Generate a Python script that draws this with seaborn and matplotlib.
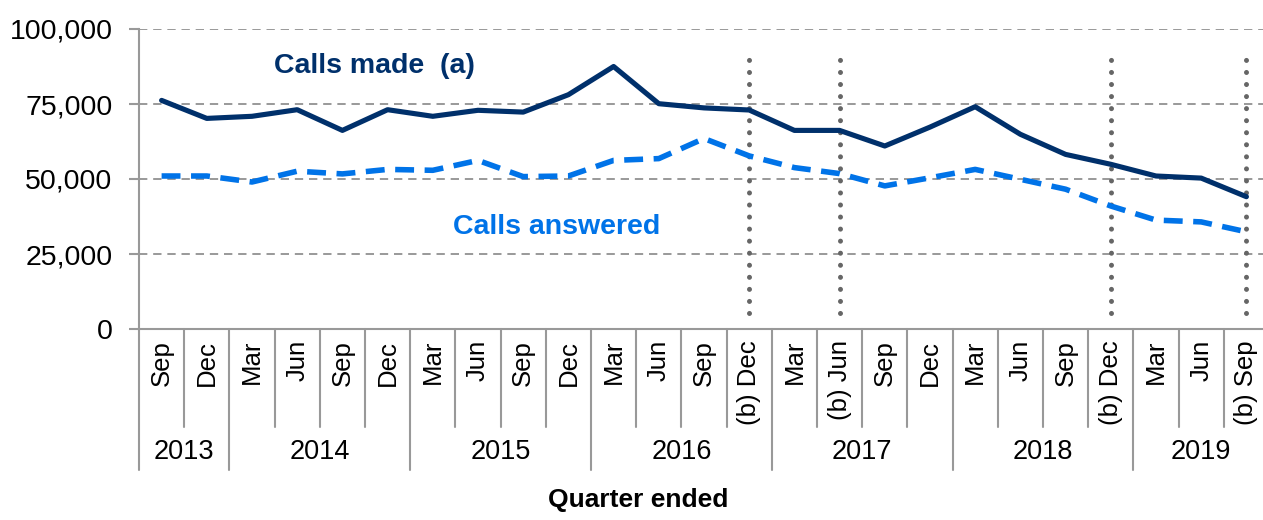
import pandas as pd
import numpy as np
import matplotlib
matplotlib.use("Agg")
import matplotlib.pyplot as plt
import seaborn as sns
from matplotlib.ticker import FuncFormatter

# Quarter labels and years
quarters = ['Sep', 'Dec',
            'Mar', 'Jun', 'Sep', 'Dec',
            'Mar', 'Jun', 'Sep', 'Dec',
            'Mar', 'Jun', 'Sep', '(b) Dec',
            'Mar', '(b) Jun', 'Sep', 'Dec',
            'Mar', 'Jun', 'Sep', '(b) Dec',
            'Mar', 'Jun', '(b) Sep']
years = ['2013', '2014', '2015', '2016', '2017', '2018', '2019']
quarters_per_year = [2, 4, 4, 4, 4, 4, 3]

# Series values
calls_made = [76200, 70200, 70900, 73100, 66200, 73100, 70900, 72900, 72300, 78100,
              87500, 75100, 73700, 73000, 66200, 66200, 61000, 67300, 74100, 64900,
              58200, 54900, 51000, 50300, 44100]
calls_answered = [51000, 51000, 49000, 52600, 51700, 53200, 52900, 56200, 50800, 51000,
                  56200, 56800, 63500, 57700, 53800, 51800, 47700, 50400, 53200, 49900,
                  46600, 41000, 36300, 35700, 32400]

# Quarters marked with a series break (b)
break_idx = [13, 15, 21, 24]

navy = '#00306B'
blue = '#0073E8'
grey = '#999999'

sns.set_style('white')
plt.rcParams['font.family'] = ['Liberation Sans', 'DejaVu Sans']
plt.rcParams['text.color'] = 'black'
plt.rcParams['xtick.labelcolor'] = 'black'
plt.rcParams['ytick.labelcolor'] = 'black'

df = pd.DataFrame({'pos': np.arange(len(quarters)),
                   'made': calls_made,
                   'answered': calls_answered})

fig = plt.figure(figsize=(12.63, 5.2), dpi=100)
ax = fig.add_axes([139 / 1263, 191 / 520, 1130 / 1263, 300 / 520])

# Gridlines
ax.set_ylim(0, 100000)
ax.set_xlim(-0.5, len(quarters) - 0.5)
ax.set_yticks(np.arange(0, 100001, 25000))
ax.yaxis.grid(True, color='#888888', linestyle=(0, (5, 3.5)), linewidth=1.2)
ax.set_axisbelow(True)

# Break markers
for b in break_idx:
    ax.plot([b, b], [5500, 91500], color='#666666', lw=3.6,
            linestyle=(0, (0.01, 2.4)), dash_capstyle='round', zorder=2)

sns.lineplot(data=df, x='pos', y='made', ax=ax, color=navy, lw=3.7, zorder=3)
sns.lineplot(data=df, x='pos', y='answered', ax=ax, color=blue, lw=4.0, zorder=3)
ax.lines[-1].set_linestyle((0, (3.4, 1.9)))
ax.lines[-1].set_dash_capstyle('butt')

ax.text(4.7, 87600, 'Calls made  (a)', color=navy, fontsize=20.5, fontweight='bold',
        ha='center', va='center')
ax.text(8.75, 34000, 'Calls answered', color=blue, fontsize=20.5, fontweight='bold',
        ha='center', va='center')

# Axes styling
for s in ['top', 'right']:
    ax.spines[s].set_visible(False)
for s in ['left', 'bottom']:
    ax.spines[s].set_color(grey)
    ax.spines[s].set_linewidth(1.5)

ax.yaxis.set_major_formatter(FuncFormatter(lambda v, p: f'{int(v):,}'))
ax.tick_params(axis='y', length=7, width=1.5, color=grey, direction='out',
               pad=12, labelsize=20.5, left=True)
ax.set_xticks(df['pos'])
ax.set_xticklabels(quarters, rotation=90, fontsize=18.5)
ax.tick_params(axis='x', length=0, pad=8)
ax.set_xlabel('')
ax.set_ylabel('')

# Category separators below the axis
trans = ax.get_xaxis_transform()
year_edges = np.cumsum([0] + quarters_per_year) - 0.5
for i in range(1, len(quarters)):
    edge = i - 0.5
    bottom = -0.47 if edge in year_edges else -0.327
    ax.plot([edge, edge], [0, bottom], color=grey, lw=1.5, transform=trans,
            clip_on=False, zorder=1)
ax.plot([-0.5, -0.5], [0, -0.47], color=grey, lw=1.5, transform=trans,
        clip_on=False)

# Year labels
for k, yr in enumerate(years):
    lo, hi = year_edges[k], year_edges[k + 1]
    ax.text((lo + hi) / 2, -0.41, yr, transform=trans, ha='center', va='center',
            fontsize=19.5)
# last group is cut at the figure edge
ax.texts[-1].set_x(23.0)

fig.text(0.505, 0.015, 'Quarter ended', ha='center', va='bottom', fontsize=19,
         fontweight='bold')

fig.savefig('out.png', dpi=100)
